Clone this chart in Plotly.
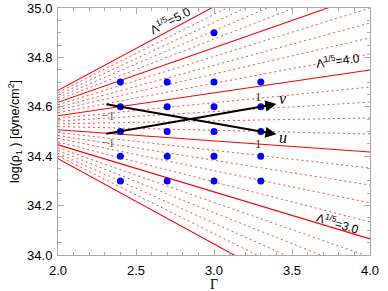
import plotly.graph_objects as go

# Contour lines of constant Lambda^(1/5): value of log(p1) at Gamma=2.0 and Gamma=4.0
lambda_vals = [2.5, 2.6, 2.7, 2.8, 2.9, 3.0, 3.1, 3.2, 3.3, 3.4, 3.5, 3.6, 3.7,
               3.8, 3.9, 4.0, 4.1, 4.2, 4.3, 4.4, 4.5, 4.6, 4.7, 4.8, 4.9, 5.0]
logp_at_g2 = [34.390, 34.401, 34.412, 34.423, 34.434, 34.446, 34.458, 34.472, 34.484,
              34.496, 34.507, 34.520, 34.531, 34.542, 34.553, 34.564, 34.576, 34.587,
              34.597, 34.608, 34.618, 34.628, 34.638, 34.648, 34.658, 34.667]
logp_at_g4 = [33.699, 33.772, 33.846, 33.920, 33.992, 34.065, 34.134, 34.211, 34.283,
              34.352, 34.417, 34.490, 34.555, 34.619, 34.680, 34.749, 34.814, 34.879,
              34.939, 35.000, 35.060, 35.120, 35.178, 35.235, 35.290, 35.344]
solid_vals = [2.5, 3.0, 3.5, 4.0, 4.5, 5.0]
line_gammas = [2.0, 4.0]

# Blue sample points
pt_gamma = [2.4, 2.4, 2.4, 2.4, 2.4,
            2.7, 2.7, 2.7, 2.7, 2.7,
            3.0, 3.0, 3.0, 3.0, 3.0, 3.0,
            3.3, 3.3, 3.3, 3.3, 3.3]
pt_logp = [34.3, 34.4, 34.5, 34.6, 34.7,
           34.3, 34.4, 34.5, 34.6, 34.7,
           34.3, 34.4, 34.5, 34.6, 34.7, 34.9,
           34.3, 34.4, 34.5, 34.6, 34.7]

# u and v axes (start, end)
u_start = (2.3, 34.611)
u_end = (3.40, 34.489)
v_start = (2.3, 34.490)
v_end = (3.40, 34.611)

fig = go.Figure()

for lam, y0, y1 in zip(lambda_vals, logp_at_g2, logp_at_g4):
    solid = any(abs(lam - s) < 1e-6 for s in solid_vals)
    fig.add_trace(go.Scatter(
        x=line_gammas, y=[y0, y1], mode="lines",
        line=dict(color="rgb(255,0,0)" if solid else "rgb(255,70,70)",
                  width=1.1 if solid else 1.0,
                  dash="solid" if solid else "2px,3px"),
        hoverinfo="skip", showlegend=False))

fig.add_trace(go.Scatter(
    x=pt_gamma, y=pt_logp, mode="markers",
    marker=dict(color="rgb(0,0,255)", size=7, line=dict(width=0)),
    hoverinfo="skip", showlegend=False))

annotations = []
for (s, e) in [(u_start, u_end), (v_start, v_end)]:
    annotations.append(dict(
        x=e[0], y=e[1], ax=s[0], ay=s[1], xref="x", yref="y", axref="x", ayref="y",
        text="", showarrow=True, arrowhead=2, arrowsize=1.1, arrowwidth=2,
        arrowcolor="black"))

serif = "Liberation Serif, Times New Roman, serif"
sans = "Liberation Sans, Arial, Helvetica, sans-serif"

annotations += [
    dict(x=3.442, y=34.474, text="<i>u</i>", showarrow=False,
         font=dict(family=serif, size=16, color="black")),
    dict(x=3.44, y=34.632, text="<i>v</i>", showarrow=False,
         font=dict(family=serif, size=16, color="black")),
    dict(x=2.322, y=34.563, text="\u22121", showarrow=False,
         font=dict(family=serif, size=13, color="#666")),
    dict(x=2.322, y=34.457, text="\u22121", showarrow=False,
         font=dict(family=serif, size=13, color="#666")),
    dict(x=3.288, y=34.640, text="1", showarrow=False,
         font=dict(family=serif, size=13, color="#333")),
    dict(x=3.288, y=34.453, text="1", showarrow=False,
         font=dict(family=serif, size=13, color="#333")),
    dict(x=2.718, y=34.952, text="\u039b<sup>1/5</sup>=5.0", showarrow=False,
         textangle=-28, font=dict(family=sans, size=12, color="black")),
    dict(x=3.795, y=34.788, text="\u039b<sup>1/5</sup>=4.0", showarrow=False,
         textangle=-8, font=dict(family=sans, size=12, color="black")),
    dict(x=3.795, y=34.130, text="\u039b<sup>1/5</sup>=3.0", showarrow=False,
         textangle=17, font=dict(family=sans, size=12, color="black")),
    # x-axis title
    dict(x=0.5, y=-0.121, xref="paper", yref="paper", text="\u0393", showarrow=False,
         xanchor="center", yanchor="middle",
         font=dict(family=serif, size=14, color="black")),
]

axis_common = dict(
    showgrid=False, zeroline=False, showline=True, linecolor="#aaaaaa", linewidth=1,
    mirror="ticks", ticks="inside", ticklen=6, tickcolor="#aaaaaa", tickwidth=1,
    tickfont=dict(family=sans, size=13, color="black"), automargin=False,
)

fig.update_layout(
    template="none",
    width=388, height=291,
    margin=dict(l=58, r=18, t=8, b=36),
    paper_bgcolor="white", plot_bgcolor="white",
    annotations=annotations,
    xaxis=dict(range=[2.0, 4.0], dtick=0.5, tick0=2.0, tickformat=".1f",
               ticklabelstandoff=3,
               minor=dict(dtick=0.1, ticklen=3, ticks="inside", tickcolor="#aaaaaa"),
               **axis_common),
    yaxis=dict(range=[34.0, 35.0], dtick=0.2, tick0=34.0, tickformat=".1f",
               ticklabelstandoff=2,
               minor=dict(dtick=0.05, ticklen=3, ticks="inside", tickcolor="#aaaaaa"),
               title=dict(text="log(\u03c1<sub>1</sub> ) [dyne/cm<sup>2</sup>]",
                          font=dict(family=sans, size=12.5, color="black"), standoff=4),
               **axis_common),
)

fig.write_html("out.html", config={"displayModeBar": False},
               post_script="document.body.style.margin='0';")
